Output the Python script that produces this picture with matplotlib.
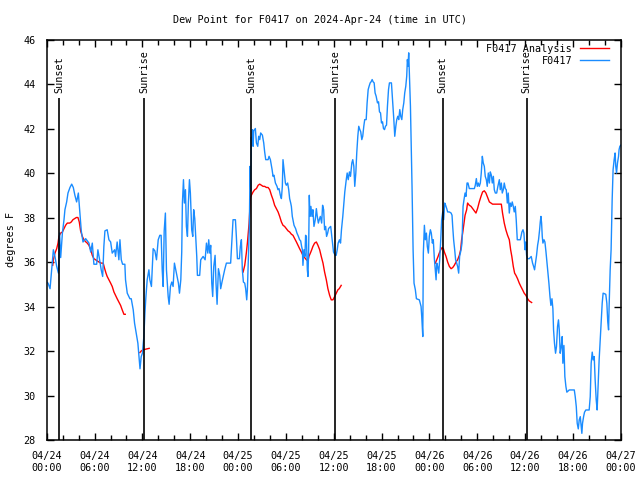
import numpy as np
import matplotlib
matplotlib.use('Agg')
import matplotlib.pyplot as plt
import matplotlib.dates as mdates

# hours after 2024-04-24 00:00 UTC
obs_hours = [
    0.0, 0.16, 0.41, 0.58, 0.83, 1.04, 1.25, 1.46, 1.62, 1.75, 1.96, 2.17, 2.29, 2.50, 2.67,
    2.92, 3.13, 3.33, 3.54, 3.75, 3.96, 4.17, 4.34, 4.55, 4.88, 5.30, 5.51, 5.71, 5.92, 6.26,
    6.42, 6.63, 6.84, 7.01, 7.17, 7.30, 7.59, 7.80, 8.01, 8.22, 8.51, 8.64, 8.84, 9.05, 9.18,
    9.35, 9.51, 9.80, 9.89, 10.10, 10.43, 10.60, 10.85, 11.02, 11.27, 11.43, 11.56, 11.70, 11.85,
    12.00, 12.18, 12.31, 12.43, 12.60, 12.81, 12.93, 13.14, 13.35, 13.56, 13.77, 13.98, 14.19,
    14.35, 14.48, 14.60, 14.73, 14.89, 15.02, 15.23, 15.35, 15.52, 15.69, 15.85, 16.02, 16.19,
    16.35, 16.52, 16.65, 16.81, 16.94, 17.02, 17.15, 17.27, 17.40, 17.52, 17.65, 17.77, 17.90,
    18.02, 18.19, 18.32, 18.44, 18.57, 18.69, 18.82, 18.90, 19.19, 19.32, 19.61, 19.86, 20.03,
    20.20, 20.32, 20.45, 20.57, 20.70, 20.82, 20.95, 21.11, 21.24, 21.36, 21.53, 21.70, 21.82,
    21.99, 22.16, 22.32, 22.53, 23.07, 23.20, 23.37, 23.66, 23.78, 23.91, 24.16, 24.29, 24.41,
    24.54, 24.66, 24.83, 24.95, 25.08, 25.16, 25.29, 25.41, 25.50, 25.58, 25.66, 25.71, 25.80,
    25.88, 25.97, 26.17, 26.30, 26.46, 26.59, 26.71, 26.84, 27.05, 27.22, 27.34, 27.47, 27.76,
    27.88, 28.05, 28.26, 28.38, 28.50, 28.68, 28.88, 29.00, 29.13, 29.30, 29.43, 29.55, 29.64,
    29.80, 29.93, 30.05, 30.22, 30.35, 30.47, 30.60, 30.68, 30.80, 30.89, 31.01, 31.22, 31.39,
    31.56, 31.72, 31.85, 31.97, 32.06, 32.14, 32.27, 32.39, 32.47, 32.56, 32.68, 32.77, 32.85,
    32.93, 33.02, 33.14, 33.27, 33.39, 33.52, 33.69, 33.81, 33.94, 34.06, 34.19, 34.31, 34.48,
    34.60, 34.73, 34.85, 34.98, 35.10, 35.23, 35.35, 35.47, 35.62, 35.80, 35.97, 36.18, 36.30,
    36.43, 36.55, 36.72, 36.85, 36.97, 37.14, 37.26, 37.39, 37.56, 37.68, 37.81, 37.97, 38.10,
    38.27, 38.39, 38.52, 38.64, 38.77, 38.89, 39.02, 39.14, 39.27, 39.39, 39.52, 39.64, 39.77,
    39.89, 40.06, 40.19, 40.31, 40.44, 40.56, 40.69, 40.81, 40.94, 41.06, 41.19, 41.31, 41.48,
    41.61, 41.73, 41.86, 41.98, 42.11, 42.23, 42.36, 42.48, 42.61, 42.73, 42.86, 42.98, 43.23,
    43.32, 43.40, 43.53, 43.65, 43.78, 43.90, 44.03, 44.15, 44.28, 44.40, 44.53, 44.65, 44.78,
    44.90, 45.03, 45.15, 45.24, 45.32, 45.40, 45.49, 45.61, 45.70, 45.82, 45.95, 46.07, 46.24,
    46.36, 46.74, 46.95, 47.03, 47.16, 47.24, 47.37, 47.49, 47.62, 47.74, 47.87, 47.99, 48.12,
    48.24, 48.37, 48.49, 48.62, 48.74, 48.83, 48.91, 49.04, 49.16, 49.29, 49.41, 49.54, 49.66,
    49.79, 49.91, 50.04, 50.16, 50.29, 50.50, 50.71, 50.83, 50.91, 51.04, 51.16, 51.29, 51.41,
    51.54, 51.67, 51.79, 51.96, 52.08, 52.21, 52.33, 52.46, 52.58, 52.71, 52.83, 53.00, 53.21,
    53.42, 53.63, 53.75, 53.88, 54.00, 54.13, 54.25, 54.38, 54.50, 54.63, 54.75, 54.88, 55.00,
    55.13, 55.25, 55.38, 55.51, 55.63, 55.76, 55.88, 56.01, 56.13, 56.26, 56.43, 56.59, 56.76,
    56.88, 57.01, 57.13, 57.26, 57.38, 57.51, 57.63, 57.76, 57.88, 58.01, 58.13, 58.26, 58.39,
    58.51, 58.64, 58.76, 58.89, 59.01, 59.26, 59.40, 59.48, 59.60, 59.73, 59.85, 59.98, 60.08,
    60.19, 60.31, 60.52, 60.77, 60.94, 61.06, 61.19, 61.32, 61.44, 61.57, 61.69, 61.82, 61.90,
    61.98, 62.07, 62.15, 62.23, 62.36, 62.48, 62.61, 62.73, 62.86, 62.98, 63.11, 63.24, 63.36,
    63.49, 63.57, 63.69, 63.82, 63.94, 64.07, 64.19, 64.28, 64.40, 64.53, 64.65, 64.74, 64.86,
    64.99, 65.11, 65.24, 65.53, 65.90, 66.16, 66.28, 66.41, 66.53, 66.66, 66.78, 66.91, 67.03,
    67.12, 67.20, 67.33, 67.45, 67.62, 68.04, 68.16, 68.29, 68.41, 68.54, 68.66, 68.79, 68.91,
    69.04, 69.16, 69.29, 69.41, 69.54, 69.66, 69.79, 70.12, 70.25, 70.37, 70.46, 70.54, 70.67,
    70.79, 70.92, 71.04, 71.17, 71.29, 71.37, 71.46, 71.58, 71.71, 71.79, 71.88, 72.0,
]
obs_dewpt = [
    35.1, 35.05, 34.8, 35.5, 36.55, 36.25, 35.8, 35.5, 37.3, 36.2, 37.3, 37.9, 38.35, 38.7, 39.1,
    39.35, 39.5, 39.35, 39.0, 38.7, 39.1, 38.2, 37.4, 36.9, 37.05, 36.85, 36.45, 36.85, 35.9, 35.9,
    36.55, 36.1, 35.65, 35.35, 36.7, 37.4, 37.45, 37.0, 36.9, 36.4, 36.55, 36.25, 36.9, 36.1, 37.0,
    36.1, 35.9, 35.9, 35.2, 34.6, 34.35, 34.35, 33.85, 33.25, 32.7, 32.35, 31.8, 31.2, 31.75,
    31.9, 32.65, 33.7, 34.4, 35.2, 35.65, 35.2, 34.9, 36.6, 36.5, 36.1, 37.0, 37.2,
    37.2, 35.65, 34.9, 37.4, 38.2, 35.65, 34.45, 34.1, 34.9, 35.1, 34.9, 35.95, 35.65,
    35.35, 35.05, 34.6, 35.2, 36.45, 38.65, 39.7, 38.65, 39.25, 37.6, 37.15, 38.65, 39.7,
    39.1, 37.45, 37.15, 38.35, 37.95, 37.15, 36.25, 35.4, 35.4, 36.1, 36.25, 36.1, 36.85,
    36.4, 37.0, 36.4, 36.75, 35.05, 34.45, 35.8, 36.3, 35.05, 34.1, 35.7, 35.4, 34.8,
    35.1, 35.4, 35.65, 35.95, 35.95, 36.85, 37.9, 37.9, 37.15, 36.15, 36.15, 36.7, 37.0,
    35.65, 35.1, 35.05, 34.8, 34.3, 34.75, 36.1, 37.6, 40.3, 39.2, 41.6, 41.35, 41.95,
    41.2, 41.9, 42.0, 41.35, 41.2, 41.65, 41.5, 41.8, 41.7, 41.35, 40.95, 40.6, 40.6,
    40.75, 40.6, 40.15, 39.85, 39.9, 39.55, 39.4, 39.25, 39.3, 39.0, 38.85, 39.4, 40.6,
    40.0, 39.55, 39.45, 39.55, 39.25, 38.85, 38.65, 38.5, 38.05, 37.9, 37.65, 37.5, 37.3,
    37.15, 37.0, 36.95, 36.7, 36.55, 35.85, 36.55, 36.25, 37.2, 37.15, 35.65, 35.35, 36.55,
    39.0, 38.05, 38.5, 38.05, 38.35, 37.6, 37.9, 38.4, 38.05, 37.75, 37.9, 38.05, 37.75,
    38.55, 38.35, 37.45, 37.6, 37.15, 37.3, 37.5, 37.55, 37.6, 37.0, 36.45, 36.3, 36.3,
    36.55, 36.85, 37.0, 36.85, 37.45, 38.05, 38.65, 39.15, 39.7, 40.0, 39.7, 40.05, 39.85,
    40.45, 40.6, 40.3, 39.4, 40.0, 40.9, 41.65, 42.1, 41.95, 41.85, 41.5, 41.65, 42.1,
    42.4, 42.4, 43.15, 43.75, 43.9, 44.05, 44.1, 44.2, 44.1, 44.05, 43.6, 43.45, 43.15,
    43.2, 42.75, 42.7, 42.25, 42.3, 42.0, 41.95, 42.1, 42.15, 43.0, 43.75, 44.05, 44.05,
    43.6, 43.15, 42.4, 41.65, 42.1, 42.4, 42.55, 42.4, 42.85, 42.55, 42.4, 42.85, 43.15,
    43.6, 43.9, 44.35, 45.1, 44.8, 45.4, 44.5, 43.0, 41.5, 39.4, 36.55, 35.05, 34.75,
    34.35, 34.3, 34.0, 33.55, 32.65, 36.4, 37.65, 37.0, 37.3, 36.7, 36.4, 37.15, 37.45,
    37.3, 36.85, 37.0, 36.15, 35.65, 35.2, 35.95, 35.8, 35.5, 36.1, 37.0, 37.9, 38.25,
    37.9, 38.65, 38.55, 38.4, 38.25, 38.25, 38.2, 38.1, 37.6, 37.0, 36.55, 36.1, 35.95,
    35.8, 35.5, 36.25, 36.55, 36.85, 38.5, 38.8, 39.1, 38.95, 39.55, 39.55, 39.3, 39.3,
    39.3, 39.3, 39.45, 39.75, 39.4, 39.55, 39.4, 39.55, 40.0, 40.75, 40.45, 40.3, 39.85,
    39.7, 39.4, 40.0, 39.55, 40.05, 39.9, 39.55, 39.85, 39.25, 39.1, 39.1, 39.4, 39.7,
    39.25, 39.55, 39.1, 39.25, 39.55, 39.3, 39.25, 38.65, 39.1, 38.2, 38.65, 38.5, 38.7,
    38.5, 38.25, 38.5, 37.9, 37.0, 37.0, 37.0, 37.15, 37.35, 37.45, 37.3, 36.55, 36.9,
    36.3, 36.15, 36.15, 36.25, 35.95, 35.8, 35.65, 36.0, 36.3, 36.75, 37.0, 37.45, 37.8,
    38.05, 37.75, 37.15, 36.85, 37.0, 36.9, 36.45, 36.0, 35.5, 35.05, 34.45, 34.05, 34.35,
    33.9, 32.95, 32.35, 31.9, 32.2, 33.1, 33.4, 32.95, 31.9, 32.2, 32.65, 31.45, 32.25,
    30.85, 30.4, 30.15, 30.25, 30.25, 30.25, 29.95, 29.5, 28.75, 28.5, 28.9, 29.05, 28.6,
    28.3, 28.75, 29.05, 29.25, 29.35, 29.35, 29.95, 31.45, 31.95, 31.6, 31.75, 30.7, 29.8,
    29.35, 30.55, 31.6, 32.5, 33.3, 34.15, 34.6, 34.55, 34.15, 33.3, 32.95, 34.0, 35.65,
    36.55, 38.8, 40.15, 40.6, 40.9, 40.3, 40.0, 40.45, 40.75, 41.05, 41.2, 41.25,
]

nan = float('nan')
ana_hours = [
    0.75, 0.83, 1.04, 1.25, 1.42, 1.54, 1.75, 1.96, 2.17, 2.37, 2.58, 2.88, 3.08, 3.29, 3.50,
    3.71, 3.92, 4.09, 4.25, 4.46, 4.67, 4.92, 5.09, 5.30, 5.51, 5.71, 5.92, 6.13, 6.34, 6.55,
    6.84, 7.09, 7.26, 7.43, 7.59, 7.80, 8.01, 8.22, 8.43, 8.64, 8.84, 9.05, 9.26, 9.47, 9.68,
    9.85, 10.5,
    11.68, 11.85, 12.05, 12.39, 12.85, 13.5,
    24.63, 24.84, 25.04, 25.17, 25.30, 25.38, 25.46, 25.55, 25.67, 25.88, 26.09, 26.30, 26.51,
    26.71, 26.92, 27.13, 27.34, 27.55, 27.76, 27.97, 28.18, 28.38, 28.59, 28.80, 29.01, 29.22,
    29.43, 29.64, 29.84, 30.05, 30.26, 30.47, 30.68, 30.89, 31.10, 31.31, 31.51, 31.72, 31.93,
    32.14, 32.35, 32.56, 32.77, 32.89, 33.06, 33.23, 33.39, 33.60, 33.81, 34.02, 34.23, 34.44,
    34.65, 34.85, 35.06, 35.27, 35.48, 35.69, 35.90, 36.11, 36.32, 36.52, 36.69, 36.94, 37.5,
    48.74, 48.91, 49.08, 49.24, 49.41, 49.58, 49.75, 49.87, 50.08, 50.29, 50.50, 50.71, 50.91,
    51.12, 51.33, 51.54, 51.75, 51.92, 52.04, 52.17, 52.33, 52.46, 52.67, 52.79, 53.00, 53.21,
    53.42, 53.63, 53.84, 54.04, 54.25, 54.46, 54.67, 54.88, 55.09, 55.30, 55.51, 55.71, 55.92,
    57.01, 57.17, 57.38, 57.59, 57.80, 58.01, 58.18, 58.34, 58.51, 58.68, 58.85, 59.05, 59.26,
    59.47, 59.68, 59.89, 60.10, 60.31, 60.52, 60.81,
]
ana_dewpt = [
    35.85, 36.1, 36.4, 36.6, 36.85, 37.15, 37.3, 37.35, 37.5, 37.65, 37.75, 37.75, 37.8, 37.9, 37.95,
    38.0, 38.0, 37.8, 37.4, 37.15, 37.0, 36.9, 36.85, 36.75, 36.55, 36.3, 36.15, 36.1, 36.05, 36.0,
    35.95, 35.95, 35.7, 35.5, 35.35, 35.2, 35.05, 34.9, 34.65, 34.5, 34.35, 34.2, 34.05, 33.85, 33.65,
    33.65, nan,
    31.93, 32.0, 32.05, 32.08, 32.12, nan,
    35.55, 35.85, 36.4, 36.85, 37.4, 37.75, 38.35, 38.9, 39.0, 39.15, 39.25, 39.3, 39.45,
    39.5, 39.45, 39.4, 39.4, 39.35, 39.35, 39.25, 39.0, 38.8, 38.55, 38.4, 38.25, 38.05,
    37.8, 37.65, 37.6, 37.5, 37.4, 37.35, 37.25, 37.2, 37.05, 36.9, 36.75, 36.6, 36.45,
    36.3, 36.2, 36.1, 36.05, 36.25, 36.4, 36.55, 36.7, 36.85, 36.9, 36.75, 36.55, 36.25,
    35.95, 35.55, 35.2, 34.8, 34.5, 34.3, 34.3, 34.45, 34.6, 34.75, 34.8, 34.95, nan,
    35.95, 36.1, 36.25, 36.4, 36.55, 36.65, 36.6, 36.45, 36.25, 36.0, 35.8, 35.7, 35.75,
    35.85, 36.0, 36.1, 36.3, 36.55, 37.0, 37.3, 37.75, 38.1, 38.35, 38.65, 38.55, 38.5,
    38.4, 38.3, 38.2, 38.4, 38.7, 38.95, 39.15, 39.2, 39.1, 38.9, 38.7, 38.65, 38.6,
    38.6, 38.2, 37.75, 37.45, 37.2, 37.0, 36.55, 36.25, 35.8, 35.5, 35.4, 35.25, 35.05,
    34.9, 34.75, 34.6, 34.5, 34.35, 34.25, 34.18,
]

sun_times = ['2024-04-24T01:35', '2024-04-24T12:15', '2024-04-25T01:37',
             '2024-04-25T12:13', '2024-04-26T01:39', '2024-04-26T12:11']
sun_labels = ['Sunset', 'Sunrise', 'Sunset', 'Sunrise', 'Sunset', 'Sunrise']

start = np.datetime64('2024-04-24T00:00')


def to_times(hours):
    return start + (np.array(hours) * 60).round().astype('timedelta64[m]')


plt.rcParams['font.family'] = ['DejaVu Sans Mono']
plt.rcParams['font.size'] = 7.3

fig = plt.figure(figsize=(6.4, 4.8), dpi=100)
ax = fig.add_axes([0.073, 0.0833, 0.897, 0.8344])

ax.plot(to_times(ana_hours), ana_dewpt, color='#ff0000', lw=1.0, label='F0417 Analysis')
ax.plot(to_times(obs_hours), obs_dewpt, color='#1a8cff', lw=1.0, label='F0417')

for t, lab in zip(sun_times, sun_labels):
    tt = np.datetime64(t)
    ax.vlines(tt, 28, 43.35, color='black', lw=1.2)
    ax.text(tt, 43.6, lab, rotation=90, ha='center', va='bottom')

ax.set_xlim(start, np.datetime64('2024-04-27T00:00'))
ax.set_ylim(28, 46)
ax.set_yticks(np.arange(28, 47, 2))
ax.xaxis.set_major_locator(mdates.HourLocator(byhour=range(0, 24, 6)))
ax.xaxis.set_minor_locator(mdates.HourLocator(byhour=range(0, 24, 2)))
ax.xaxis.set_major_formatter(mdates.DateFormatter('%m/%d\n%H:%M'))
ax.tick_params(which='both', direction='in', top=True, right=True, width=1)
ax.tick_params(which='major', length=5, pad=8)
ax.tick_params(which='minor', length=3.5)
for s in ax.spines.values():
    s.set_linewidth(1.1)

fig.text(0.5, 1 - 20 / 480, 'Dew Point for F0417 on 2024-Apr-24 (time in UTC)',
         ha='center', va='center')
ax.set_ylabel('degrees F', labelpad=5)
ax.legend(loc='upper right', bbox_to_anchor=(0.979, 0.99), frameon=False,
          markerfirst=False, handlelength=2.8, borderpad=0, borderaxespad=0,
          labelspacing=0.25, handletextpad=0.8)

fig.savefig('out.png', dpi=100)
